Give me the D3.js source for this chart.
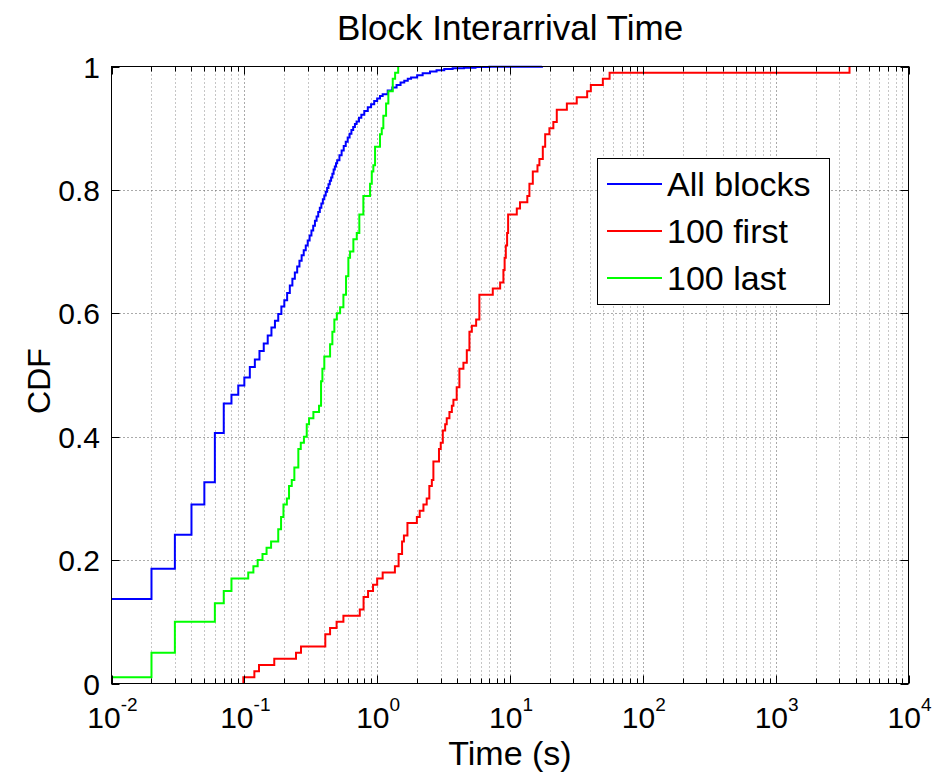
<!DOCTYPE html>
<html>
<head>
<meta charset="utf-8">
<script src="https://cdn.jsdelivr.net/npm/d3@7/dist/d3.min.js"></script>
<style>
  html, body { margin: 0; padding: 0; background: #ffffff; }
  svg { display: block; }
  text { font-family: "Liberation Sans", Arial, Helvetica, sans-serif; fill: #000; }
</style>
</head>
<body>
<svg id="chart" width="938" height="775"></svg>
<script>
// ---------------- data ----------------
const chartTitle = "Block Interarrival Time";
const xAxisLabel = "Time (s)";
const yAxisLabel = "CDF";
const seriesNames = ["All blocks", "100 first", "100 last"];
const seriesColors = ["#0000ff", "#ff0000", "#00ff00"];

const xTickExponents = [-2, -1, 0, 1, 2, 3, 4];
const yTicks = [0, 0.2, 0.4, 0.6, 0.8, 1];
const yTickLabels = ["0", "0.2", "0.4", "0.6", "0.8", "1"];

// All blocks (time in s, CDF)
const allBlocksTime = [0.01, 0.02, 0.03, 0.04, 0.05, 0.06, 0.07, 0.08, 0.09, 0.10,
  0.11, 0.12, 0.13, 0.14, 0.15, 0.16, 0.17, 0.18, 0.19, 0.20,
  0.21, 0.22, 0.23, 0.24, 0.25, 0.26, 0.27, 0.28, 0.29, 0.30,
  0.31, 0.32, 0.33, 0.34, 0.35, 0.36, 0.37, 0.38, 0.39, 0.40,
  0.41, 0.42, 0.43, 0.44, 0.45, 0.46, 0.47, 0.48, 0.49, 0.50,
  0.52, 0.54, 0.56, 0.58, 0.60, 0.62, 0.64, 0.66, 0.68, 0.70,
  0.73, 0.76, 0.80, 0.85, 0.90, 0.95, 1.0, 1.05, 1.1, 1.2,
  1.3, 1.4, 1.5, 1.6, 1.7, 1.8, 2.0, 2.2, 2.5, 2.8,
  3.2, 3.7, 4.5, 5.5, 7.0, 17.4];
const allBlocksCdf = [0.137, 0.186, 0.241, 0.290, 0.326, 0.406, 0.454, 0.468, 0.483, 0.496,
  0.513, 0.525, 0.539, 0.551, 0.564, 0.577, 0.588, 0.599, 0.611, 0.621,
  0.633, 0.645, 0.656, 0.666, 0.676, 0.685, 0.694, 0.702, 0.710, 0.718,
  0.726, 0.734, 0.742, 0.750, 0.757, 0.764, 0.771, 0.778, 0.785, 0.791,
  0.797, 0.803, 0.809, 0.815, 0.820, 0.826, 0.833, 0.838, 0.843, 0.848,
  0.856, 0.864, 0.871, 0.878, 0.885, 0.891, 0.897, 0.902, 0.907, 0.911,
  0.917, 0.922, 0.928, 0.934, 0.939, 0.944, 0.948, 0.952, 0.955, 0.961,
  0.966, 0.970, 0.974, 0.977, 0.980, 0.982, 0.986, 0.989, 0.992, 0.994,
  0.996, 0.997, 0.998, 0.999, 0.9995, 1.0];

// 100 first blocks
const first100Time = [0.0983, 0.0983, 0.119, 0.129, 0.168, 0.245, 0.267, 0.407, 0.442, 0.495,
  0.557, 0.74, 0.79, 0.854, 0.931, 1.00, 1.10, 1.36, 1.45, 1.54,
  1.59, 1.69, 1.99, 2.09, 2.23, 2.36, 2.47, 2.58, 2.65, 2.92,
  3.01, 3.12, 3.25, 3.34, 3.50, 3.65, 3.75, 3.97, 4.16, 4.46,
  4.73, 4.95, 5.16, 5.56, 5.88, 7.42, 8.43, 8.92, 9.11, 9.30,
  9.51, 9.68, 11.25, 11.9, 13.5, 14.0, 14.85, 16.1, 16.65, 17.66,
  18.4, 19.8, 21.2, 22.5, 26.8, 31.8, 38.1, 40.6, 50.0, 56.2,
  3597];
const first100Cdf = [0, 0.01, 0.02, 0.03, 0.04, 0.05, 0.06, 0.08, 0.09, 0.10,
  0.11, 0.12, 0.14, 0.15, 0.16, 0.17, 0.18, 0.19, 0.21, 0.23,
  0.24, 0.26, 0.27, 0.28, 0.29, 0.30, 0.32, 0.33, 0.36, 0.38,
  0.39, 0.41, 0.42, 0.43, 0.44, 0.45, 0.46, 0.48, 0.51, 0.52,
  0.54, 0.57, 0.58, 0.59, 0.63, 0.64, 0.65, 0.67, 0.69, 0.71,
  0.73, 0.76, 0.77, 0.78, 0.79, 0.81, 0.83, 0.84, 0.85, 0.87,
  0.89, 0.90, 0.91, 0.93, 0.94, 0.95, 0.96, 0.97, 0.98, 0.99,
  1.00];

// 100 last blocks
const last100Time = [0.01, 0.02, 0.03, 0.06, 0.07, 0.08, 0.107, 0.117, 0.126, 0.137,
  0.147, 0.159, 0.180, 0.189, 0.197, 0.209, 0.217, 0.2275, 0.238, 0.255,
  0.266, 0.281, 0.295, 0.307, 0.331, 0.365, 0.378, 0.387, 0.40, 0.442,
  0.46, 0.476, 0.497, 0.526, 0.557, 0.583, 0.607, 0.625, 0.662, 0.702,
  0.734, 0.787, 0.884, 0.911, 0.936, 0.964, 1.05, 1.083, 1.113, 1.167,
  1.214, 1.31, 1.365, 1.44];
const last100Cdf = [0.01, 0.05, 0.10, 0.13, 0.15, 0.17, 0.18, 0.19, 0.20, 0.21,
  0.22, 0.23, 0.25, 0.27, 0.29, 0.30, 0.32, 0.33, 0.35, 0.38,
  0.39, 0.40, 0.42, 0.43, 0.44, 0.45, 0.49, 0.51, 0.53, 0.55,
  0.57, 0.59, 0.60, 0.61, 0.63, 0.66, 0.69, 0.70, 0.72, 0.73,
  0.76, 0.79, 0.81, 0.83, 0.84, 0.87, 0.89, 0.90, 0.92, 0.94,
  0.96, 0.98, 0.99, 1.00];

// ---------------- layout ----------------
const W = 938, H = 775;
const plot = { left: 111.5, right: 908.5, top: 66.5, bottom: 683.5 };

const svg = d3.select("#chart");
svg.append("rect").attr("width", W).attr("height", H).attr("fill", "#fff");

const x = d3.scaleLog().domain([1e-2, 1e4]).range([plot.left, plot.right]);
const y = d3.scaleLinear().domain([0, 1]).range([plot.bottom, plot.top]);

// ---------------- grid ----------------
const gridG = svg.append("g");
const minorVals = [];
for (let e = -2; e < 4; e++) {
  for (let m = 2; m <= 9; m++) minorVals.push(m * Math.pow(10, e));
}
const majorVals = xTickExponents.map(e => Math.pow(10, e));

gridG.selectAll("line.minor").data(minorVals).enter().append("line")
  .attr("x1", d => Math.round(x(d)) + 0.5).attr("x2", d => Math.round(x(d)) + 0.5)
  .attr("y1", plot.top).attr("y2", plot.bottom)
  .attr("stroke", "#8c8c8c").attr("stroke-width", 1).attr("stroke-dasharray", "1,3");

gridG.selectAll("line.major").data(majorVals.slice(1, -1)).enter().append("line")
  .attr("x1", d => Math.round(x(d)) + 0.5).attr("x2", d => Math.round(x(d)) + 0.5)
  .attr("y1", plot.top).attr("y2", plot.bottom)
  .attr("stroke", "#555").attr("stroke-width", 1).attr("stroke-dasharray", "1,3");

gridG.selectAll("line.h").data(yTicks.slice(1, -1)).enter().append("line")
  .attr("x1", plot.left).attr("x2", plot.right)
  .attr("y1", d => Math.round(y(d)) + 0.5).attr("y2", d => Math.round(y(d)) + 0.5)
  .attr("stroke", "#555").attr("stroke-width", 1).attr("stroke-dasharray", "1,3");

// ---------------- series ----------------
svg.append("clipPath").attr("id", "plotclip").append("rect")
  .attr("x", plot.left).attr("y", plot.top - 2)
  .attr("width", plot.right - plot.left).attr("height", plot.bottom - plot.top + 2);

const series = [
  { name: seriesNames[0], color: seriesColors[0], t: allBlocksTime, f: allBlocksCdf },
  { name: seriesNames[1], color: seriesColors[1], t: first100Time, f: first100Cdf },
  { name: seriesNames[2], color: seriesColors[2], t: last100Time, f: last100Cdf }
];

const line = d3.line()
  .x(d => x(d[0]))
  .y(d => y(d[1]))
  .curve(d3.curveStepAfter);

const seriesG = svg.append("g").attr("clip-path", "url(#plotclip)");
series.forEach(s => {
  const pts = s.t.map((t, i) => [t, s.f[i]]);
  seriesG.append("path")
    .attr("d", line(pts))
    .attr("fill", "none")
    .attr("stroke", s.color)
    .attr("stroke-width", 2)
    .attr("stroke-linejoin", "miter");
});

// ---------------- axes box & ticks ----------------
const axG = svg.append("g");
axG.append("rect")
  .attr("x", plot.left).attr("y", plot.top)
  .attr("width", plot.right - plot.left).attr("height", plot.bottom - plot.top)
  .attr("fill", "none").attr("stroke", "#000").attr("stroke-width", 1);

const xMajorLen = 8, xMinorLen = 5;
[[plot.bottom, -1], [plot.top, 1]].forEach(([yy, dir]) => {
  axG.selectAll(null).data(minorVals).enter().append("line")
    .attr("x1", d => Math.round(x(d)) + 0.5).attr("x2", d => Math.round(x(d)) + 0.5)
    .attr("y1", yy).attr("y2", yy + dir * xMinorLen)
    .attr("stroke", "#000");
  axG.selectAll(null).data(majorVals).enter().append("line")
    .attr("x1", d => Math.round(x(d)) + 0.5).attr("x2", d => Math.round(x(d)) + 0.5)
    .attr("y1", yy).attr("y2", yy + dir * xMajorLen)
    .attr("stroke", "#000");
});
[[plot.left, 1], [plot.right, -1]].forEach(([xx, dir]) => {
  axG.selectAll(null).data(yTicks).enter().append("line")
    .attr("x1", xx).attr("x2", xx + dir * 8)
    .attr("y1", d => Math.round(y(d)) + 0.5).attr("y2", d => Math.round(y(d)) + 0.5)
    .attr("stroke", "#000");
});

// x tick labels 10^e
const xl = axG.selectAll("text.xl").data(xTickExponents).enter().append("text")
  .attr("x", e => x(Math.pow(10, e)) + 1)
  .attr("y", 728)
  .attr("text-anchor", "middle")
  .style("font-size", "30px");
xl.append("tspan").text("10");
xl.append("tspan").attr("dy", -17).style("font-size", "19px").text(e => String(e));

// y tick labels
axG.selectAll("text.yl").data(yTicks).enter().append("text")
  .attr("x", 100)
  .attr("y", d => y(d) + 11)
  .attr("text-anchor", "end")
  .style("font-size", "30px")
  .text((d, i) => yTickLabels[i]);

// ---------------- titles ----------------
svg.append("text")
  .attr("x", (plot.left + plot.right) / 2)
  .attr("y", 40)
  .attr("text-anchor", "middle")
  .style("font-size", "35px")
  .text(chartTitle);

svg.append("text")
  .attr("x", (plot.left + plot.right) / 2)
  .attr("y", 765)
  .attr("text-anchor", "middle")
  .style("font-size", "34px")
  .text(xAxisLabel);

svg.append("text")
  .attr("transform", `translate(50, ${(plot.top + plot.bottom) / 2 + 6}) rotate(-90)`)
  .attr("text-anchor", "middle")
  .style("font-size", "32px")
  .text(yAxisLabel);

// ---------------- legend ----------------
const lg = svg.append("g");
lg.append("rect")
  .attr("x", 597.5).attr("y", 158.5).attr("width", 232).attr("height", 146)
  .attr("fill", "#fff").attr("stroke", "#000").attr("stroke-width", 1);
const rowY = [184, 231, 278];
series.forEach((s, i) => {
  lg.append("line")
    .attr("x1", 607).attr("x2", 662)
    .attr("y1", rowY[i]).attr("y2", rowY[i])
    .attr("stroke", s.color).attr("stroke-width", 2);
  lg.append("text")
    .attr("x", 667).attr("y", rowY[i] + 12)
    .style("font-size", "34px")
    .text(s.name);
});
</script>
</body>
</html>
